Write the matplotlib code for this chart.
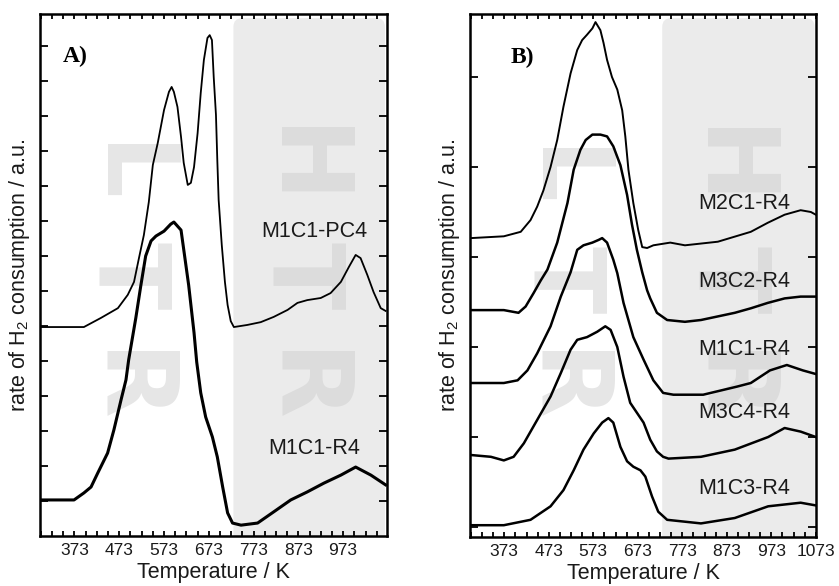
import matplotlib
matplotlib.use("Agg")
import matplotlib.pyplot as plt
from matplotlib.patches import FancyBboxPatch
from matplotlib.ticker import FixedLocator, NullLocator

plt.rcParams['font.family'] = ['Liberation Sans', 'DejaVu Sans']
plt.rcParams['mathtext.default'] = 'regular'

# ---------------- Panel A: M1C1 precursor vs. reduced catalyst ----------------
a_pc4_T = [298, 343, 394, 432, 470, 492, 506, 517, 528, 539, 548, 559, 573, 584, 590,
           595, 603, 611, 617, 626, 633, 640, 648, 655, 662, 670, 675, 680, 684, 689,
           692, 695, 702, 709, 715, 722, 729, 759, 789, 818, 849, 871, 893, 923, 945,
           968, 986, 1001, 1012, 1027, 1041, 1057, 1068]
a_pc4 = [5.97, 5.97, 5.97, 6.23, 6.51, 6.89, 7.26, 7.94, 8.60, 9.54, 10.60, 11.23, 12.17, 12.69, 12.83,
         12.69, 12.26, 11.40, 10.66, 10.03, 10.09, 10.54, 11.51, 12.66, 13.60, 14.23, 14.31, 14.17, 13.11, 12.03,
         10.74, 9.60, 8.31, 7.26, 6.60, 6.14, 5.97, 6.03, 6.11, 6.26, 6.46, 6.66, 6.74, 6.80, 6.94,
         7.26, 7.69, 8.03, 7.94, 7.46, 6.97, 6.51, 6.43]

a_r4_T = [298, 343, 372, 394, 410, 425, 447, 461, 477, 488, 494, 510, 521, 532, 544,
          555, 573, 588, 595, 611, 628, 640, 646, 655, 666, 681, 692, 704, 715, 726,
          745, 782, 818, 856, 893, 930, 968, 1001, 1035, 1068]
a_r4 = [1.03, 1.03, 1.03, 1.23, 1.40, 1.80, 2.37, 3.03, 3.89, 4.46, 5.03, 6.23, 7.14, 8.00, 8.43,
        8.57, 8.71, 8.91, 8.97, 8.74, 7.17, 5.81, 4.97, 4.09, 3.40, 2.83, 2.26, 1.40, 0.66, 0.37,
        0.31, 0.37, 0.69, 1.03, 1.26, 1.51, 1.74, 1.97, 1.74, 1.46]

# ---------------- Panel B: reduced catalysts of different composition ----------------
b_m2c1_T = [298, 372, 410, 432, 447, 461, 477, 492, 506, 522, 537, 548, 559, 571, 578,
            589, 596, 604, 615, 627, 638, 645, 652, 663, 674, 683, 694, 708, 746, 779,
            853, 927, 965, 1003, 1039, 1062, 1073]
b_m2c1 = [2.21, 2.23, 2.28, 2.41, 2.56, 2.74, 3.00, 3.30, 3.67, 4.04, 4.30, 4.41, 4.47, 4.54, 4.61,
          4.52, 4.38, 4.19, 4.00, 3.86, 3.63, 3.34, 2.97, 2.60, 2.30, 2.11, 2.10, 2.13, 2.16, 2.13,
          2.17, 2.28, 2.38, 2.47, 2.52, 2.50, 2.47]

b_m3c2_T = [298, 372, 394, 405, 421, 439, 455, 470, 492, 515, 529, 544, 556, 571, 589,
            604, 618, 634, 649, 660, 671, 683, 694, 701, 716, 739, 779, 815, 853, 891,
            927, 965, 1003, 1039, 1073]
b_m3c2 = [1.41, 1.41, 1.39, 1.38, 1.45, 1.60, 1.74, 1.86, 2.16, 2.60, 2.97, 3.19, 3.30, 3.36, 3.36,
          3.34, 3.23, 3.02, 2.69, 2.36, 2.08, 1.83, 1.63, 1.54, 1.38, 1.30, 1.28, 1.30, 1.34, 1.38,
          1.43, 1.49, 1.54, 1.56, 1.56]

b_m1c1_T = [298, 372, 403, 425, 447, 477, 500, 522, 537, 551, 571, 585, 593, 604, 618,
            627, 641, 663, 686, 708, 730, 753, 820, 896, 927, 970, 1008, 1044, 1073]
b_m1c1 = [0.60, 0.60, 0.63, 0.74, 0.93, 1.23, 1.56, 1.83, 2.08, 2.13, 2.16, 2.19, 2.21, 2.16, 1.97,
          1.82, 1.49, 1.11, 0.86, 0.63, 0.49, 0.47, 0.47, 0.56, 0.60, 0.74, 0.80, 0.74, 0.70]

b_m3c4_T = [298, 343, 372, 394, 417, 447, 477, 500, 522, 537, 559, 582, 600, 612, 627,
            641, 656, 671, 686, 701, 716, 730, 742, 815, 891, 966, 1003, 1039, 1073]
b_m3c4 = [-0.20, -0.22, -0.26, -0.22, -0.07, 0.19, 0.45, 0.71, 0.97, 1.08, 1.11, 1.17, 1.23, 1.19, 1.00,
          0.67, 0.38, 0.27, 0.16, -0.03, -0.16, -0.22, -0.24, -0.22, -0.14, 0.00, 0.10, 0.06, 0.00]

b_m1c3_T = [298, 372, 432, 477, 506, 529, 551, 574, 593, 607, 618, 634, 649, 663, 679,
            690, 705, 719, 739, 815, 891, 966, 1039, 1073]
b_m1c3 = [-0.98, -0.98, -0.92, -0.77, -0.59, -0.37, -0.14, 0.04, 0.16, 0.21, 0.16, -0.11, -0.27, -0.33, -0.37,
          -0.44, -0.66, -0.83, -0.92, -0.96, -0.90, -0.77, -0.73, -0.76]

labels_a = ["M1C1-PC4", "M1C1-R4"]
labels_b = ["M2C1-R4", "M3C2-R4", "M1C1-R4", "M3C4-R4", "M1C3-R4"]

ticks_a = [373, 473, 573, 673, 773, 873, 973]
ticks_b = [373, 473, 573, 673, 773, 873, 973, 1073]
minor_ticks = list(range(298, 1074, 25))
htr_start = 728  # K, start of the high-temperature region

fig = plt.figure(figsize=(8.39, 5.86), dpi=100)
axA = fig.add_axes([40 / 839, 50 / 586, 347 / 839, 522 / 586])
axB = fig.add_axes([470 / 839, 49 / 586, 346 / 839, 523 / 586])


def style_axes(ax, xlim, ylim, xticks, yticks):
    ax.set_xlim(*xlim)
    ax.set_ylim(*ylim)
    ax.xaxis.set_major_locator(FixedLocator(xticks))
    ax.set_xticklabels([str(t) for t in xticks])
    ax.xaxis.set_minor_locator(FixedLocator(minor_ticks))
    ax.yaxis.set_major_locator(FixedLocator(yticks))
    ax.yaxis.set_minor_locator(NullLocator())
    ax.set_yticklabels([])
    ax.tick_params(which='both', direction='in', top=True, right=True,
                   width=1.3, color='black')
    ax.tick_params(axis='x', which='both', length=3.8, labelsize=12.5, pad=5,
                   labelcolor='#1a1a1a')
    ax.tick_params(axis='y', which='major', length=5.8)
    for s in ax.spines.values():
        s.set_linewidth(1.8)
    ax.set_xlabel('Temperature / K', fontsize=15.5, labelpad=3, color='#1a1a1a')
    ax.set_ylabel('rate of H$_2$ consumption / a.u.', fontsize=15.5, labelpad=2,
                  color='#1a1a1a')


def shade_htr(ax, x0, x1, ytop):
    w_px = ax.get_position().width * 839
    h_px = ax.get_position().height * 586
    patch = FancyBboxPatch((x0, -0.1), x1 - x0, ytop + 0.1,
                           boxstyle="round,pad=0,rounding_size=0.025",
                           mutation_aspect=w_px / h_px,
                           transform=ax.transAxes, facecolor='#ebebeb',
                           edgecolor='none', zorder=0.5, clip_on=True)
    ax.add_patch(patch)


def watermark(ax, word, x_base, ys, color):
    for ch, y in zip(word, ys):
        ax.text(x_base, y, ch, transform=ax.transAxes, rotation=-90,
                rotation_mode='anchor', ha='center', va='baseline',
                fontsize=71, fontweight='bold', family='DejaVu Sans',
                color=color, zorder=1)


# ---- panel A ----
style_axes(axA, (296, 1071), (0, 14.914), ticks_a, list(range(1, 15)))
shade_htr(axA, (htr_start - 296) / 775, 0.994, 0.992)
watermark(axA, "LTR", 0.167, [0.692, 0.498, 0.284], '#e6e6e6')
watermark(axA, "HTR", 0.669, [0.707, 0.498, 0.284], '#dcdcdc')
axA.plot(a_pc4_T, a_pc4, color='black', lw=1.3, zorder=3)
axA.plot(a_r4_T, a_r4, color='black', lw=2.2, zorder=3)
axA.text(0.790, 0.584, labels_a[0], transform=axA.transAxes, ha='center', va='center',
         fontsize=15.5, color='#1a1a1a', zorder=4)
axA.text(0.790, 0.167, labels_a[1], transform=axA.transAxes, ha='center', va='center',
         fontsize=15.5, color='#1a1a1a', zorder=4)
axA.text(0.066, 0.918, 'A)', transform=axA.transAxes, ha='left', va='center',
         fontsize=17, fontweight='bold', family=['Liberation Serif', 'DejaVu Serif'],
         zorder=4)

# ---- panel B ----
style_axes(axB, (296, 1073.5), (-1.111, 4.70), ticks_b, [-1, 0, 1, 2, 3, 4])
shade_htr(axB, (htr_start - 296) / 777.5, 0.996, 0.992)
watermark(axB, "LTR", 0.182, [0.686, 0.493, 0.285], '#e6e6e6')
watermark(axB, "HTR", 0.659, [0.706, 0.493, 0.285], '#dcdcdc')
axB.plot(b_m2c1_T, b_m2c1, color='black', lw=1.4, zorder=3)
axB.plot(b_m3c2_T, b_m3c2, color='black', lw=1.8, zorder=3)
axB.plot(b_m1c1_T, b_m1c1, color='black', lw=1.8, zorder=3)
axB.plot(b_m3c4_T, b_m3c4, color='black', lw=1.8, zorder=3)
axB.plot(b_m1c3_T, b_m1c3, color='black', lw=1.8, zorder=3)
for lab, y in zip(labels_b, [0.637, 0.489, 0.359, 0.239, 0.092]):
    axB.text(0.792, y, lab, transform=axB.transAxes, ha='center', va='center',
             fontsize=15.5, color='#1a1a1a', zorder=4)
axB.text(0.116, 0.916, 'B)', transform=axB.transAxes, ha='left', va='center',
         fontsize=17, fontweight='bold', family=['Liberation Serif', 'DejaVu Serif'],
         zorder=4)

fig.savefig('out.png', dpi=100)
